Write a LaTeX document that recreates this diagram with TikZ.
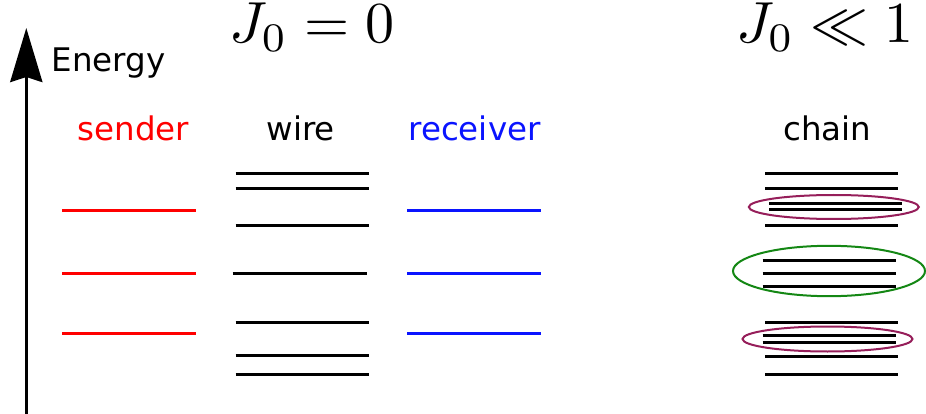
\documentclass[tikz,border=0pt]{standalone}
\usepackage{graphicx}
\usepackage{fontspec}
\newfontfamily\dejavu{DejaVu Sans}
\usetikzlibrary{arrows.meta}
\definecolor{levred}{RGB}{255,0,0}
\definecolor{levblue}{RGB}{10,20,255}
\definecolor{ellpurple}{RGB}{150,30,90}
\definecolor{ellgreen}{RGB}{20,135,20}
\tikzset{
  lev/.style={line width=3pt},
  lbl/.style={font=\dejavu\fontsize{32.5}{39}\selectfont, inner sep=0pt, anchor=base},
  ttl/.style={inner sep=0pt, anchor=base},
  ell/.style={line width=2pt},
}
\begin{document}
\begin{tikzpicture}[x=1pt,y=-1pt]
\useasboundingbox (0,0) rectangle (926,414);
% energy axis
\coordinate (ab) at (26.3,414);
\coordinate (at) at (26.3,28);
\draw[line width=3.5pt, -{Stealth[length=54pt,width=32pt,inset=5pt]}] (ab) -- (at);
\node[lbl, anchor=base west] (energy) at (51.5,72) {Energy};
% titles
\node[ttl] (t0) at (312,43) {\scalebox{5.8}{$J_0=0$}};
\node[ttl] (t1) at (825,43) {\scalebox{5.8}{$J_0\ll 1$}};
% column labels
\node[lbl, text=levred] (snd) at (133.5,141) {sender};
\node[lbl] (wir) at (300.8,141) {wire};
\node[lbl, text=levblue] (rcv) at (474.5,141) {receiver};
\node[lbl] (chn) at (827.2,141) {chain};
% sender levels
\foreach \y in {211,273.7,333.7} \draw[lev, levred] (62.3,\y) -- (196,\y);
% receiver levels
\foreach \y in {211,273.7,333.7} \draw[lev, levblue] (407.3,\y) -- (540.7,\y);
% wire levels
\foreach \y in {173.3,189,225.3,322.3,355.7,374} \draw[lev] (235.7,\y) -- (369.3,\y);
\draw[lev] (232.7,273.3) -- (366.7,273.3);
% chain levels
\foreach \y in {173.3,188.7,225.3} \draw[lev] (765,\y) -- (898.3,\y);
\foreach \y in {203.3,210} \draw[lev] (769.3,\y) -- (901.7,\y);
\foreach \y in {260,273.3,286} \draw[lev] (762.7,\y) -- (896,\y);
\foreach \y in {322.7,356,374.3} \draw[lev] (765,\y) -- (898,\y);
\foreach \y in {335.3,342} \draw[lev] (762.7,\y) -- (896,\y);
% ellipses
\draw[ell, ellpurple] (833.8,207) ellipse [x radius=85, y radius=12];
\draw[ell, ellgreen] (829,271) ellipse [x radius=96, y radius=25.2];
\draw[ell, ellpurple] (827.5,339) ellipse [x radius=85, y radius=12.5];
\end{tikzpicture}
\end{document}
